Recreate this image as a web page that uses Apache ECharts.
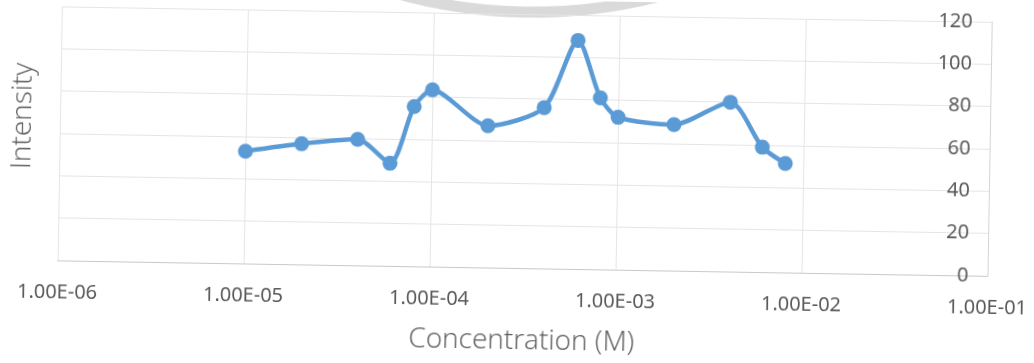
<!DOCTYPE html>
<html>
<head>
<meta charset="utf-8">
<script src="https://cdn.jsdelivr.net/npm/echarts@6/dist/echarts.min.js"></script>
<style>
  html, body { margin: 0; padding: 0; background: #ffffff; overflow: hidden; }
  #chart { width: 1034px; height: 363px; transform: rotate(0.955deg); transform-origin: 50% 50%; }
</style>
</head>
<body>
<div id="chart"></div>
<script>
// ---- data ----
const concentration = [1e-5, 2e-5, 4e-5, 6e-5, 8e-5, 1e-4, 2e-4, 4e-4, 6e-4, 8e-4, 1e-3, 2e-3, 4e-3, 6e-3, 8e-3];
const intensity     = [53, 57, 59.5, 48.5, 75.5, 83.5, 67, 76, 108, 81, 72, 69, 80, 59, 51.5];
const xTickLabels   = ['1.00E-06', '1.00E-05', '1.00E-04', '1.00E-03', '1.00E-02', '1.00E-01'];
const yTickValues   = [0, 20, 40, 60, 80, 100, 120];
const xTitle = 'Concentration (M)';
const yTitle = 'Intensity';

const points = concentration.map((c, i) => [c, intensity[i]]);

const chart = echarts.init(document.getElementById('chart'), null, { renderer: 'canvas' });
const labelColor = '#595959';
const gridColor = '#e5e5e5';

chart.setOption({
  animation: false,
  backgroundColor: '#ffffff',
  grid: { left: 59, right: 45, top: 14, bottom: 95, show: false },
  xAxis: {
    type: 'log',
    logBase: 10,
    min: 1e-6,
    max: 1e-1,
    name: xTitle,
    nameLocation: 'middle',
    nameGap: 59,
    nameTextStyle: { fontFamily: 'Open Sans', fontSize: 28, fontWeight: 300, color: labelColor },
    axisLine: { show: true, lineStyle: { color: '#c9c9c9', width: 1 } },
    axisTick: { show: false },
    splitLine: { show: true, lineStyle: { color: gridColor, width: 1 } },
    axisLabel: {
      margin: 22,
      fontFamily: 'Noto Sans',
      fontSize: 20,
      color: labelColor,
      formatter: function (v) {
        const i = Math.round(Math.log10(v)) + 6;
        return xTickLabels[i] !== undefined ? xTickLabels[i] : '';
      }
    }
  },
  yAxis: [
    {
      type: 'value',
      position: 'left',
      min: yTickValues[0],
      max: yTickValues[yTickValues.length - 1],
      interval: 20,
      axisLine: { show: true, lineStyle: { color: gridColor } },
      axisTick: { show: false },
      axisLabel: { show: false },
      splitLine: { show: true, lineStyle: { color: gridColor, width: 1 } }
    },
    {
      type: 'value',
      position: 'right',
      min: yTickValues[0],
      max: yTickValues[yTickValues.length - 1],
      interval: 20,
      axisLine: { show: true, lineStyle: { color: '#d4d4d4' } },
      axisTick: { show: false },
      splitLine: { show: false },
      axisLabel: {
        inside: true,
        margin: 19,
        fontFamily: 'Noto Sans',
        fontSize: 20,
        color: labelColor
      }
    }
  ],
  graphic: [
    {
      type: 'text',
      x: 22,
      y: 124,
      rotation: Math.PI / 2,
      style: {
        text: yTitle,
        fontFamily: 'Open Sans',
        fontSize: 28,
        fontWeight: 300,
        fill: labelColor,
        align: 'center',
        verticalAlign: 'middle'
      }
    },
    {
      type: 'arc',
      z: -1,
      shape: { cx: 522, cy: -498, r: 510, startAngle: Math.PI / 2 - 0.3, endAngle: Math.PI / 2 + 0.3, clockwise: true },
      style: { stroke: '#dadada', lineWidth: 11, fill: null }
    }
  ],
  series: [
    {
      type: 'line',
      xAxisIndex: 0,
      yAxisIndex: 0,
      data: points,
      smooth: 0.25,
      symbol: 'circle',
      symbolSize: 15,
      lineStyle: { color: '#5b9bd5', width: 4.5 },
      itemStyle: { color: '#5b9bd5' }
    }
  ]
});
</script>
</body>
</html>
